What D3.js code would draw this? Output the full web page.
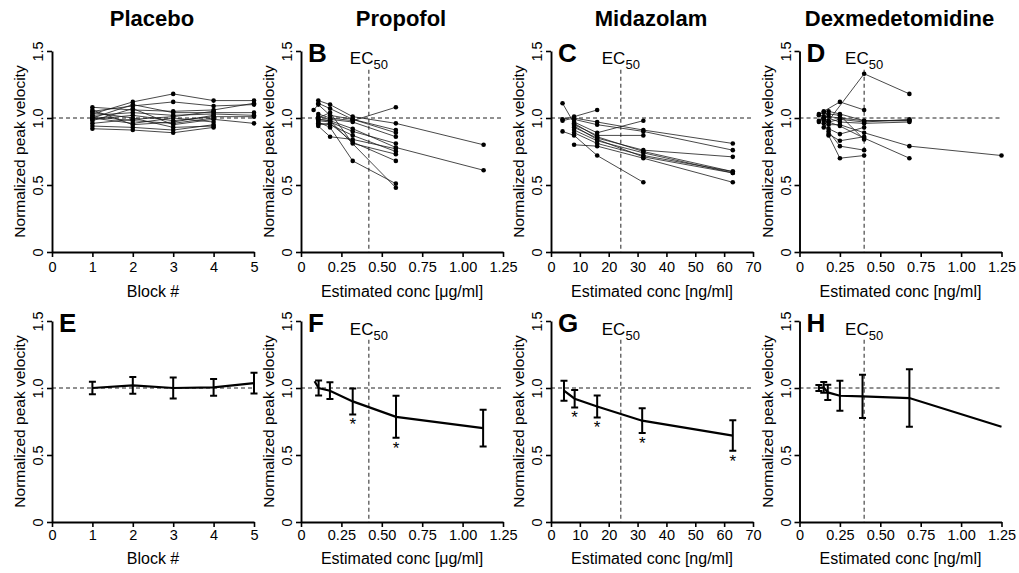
<!DOCTYPE html>
<html>
<head>
<meta charset="utf-8">
<script src="https://cdn.jsdelivr.net/npm/d3@7"></script>
<style>
  body { margin: 0; background: #fff; }
  svg { display: block; font-family: "Liberation Sans", Arial, sans-serif; }
</style>
</head>
<body>
<svg id="chart" width="1019" height="573"></svg>
<script>
// ---- data ----
const groupTitles = ["Placebo", "Propofol", "Midazolam", "Dexmedetomidine"];
const yTicks = [0, 0.5, 1.0, 1.5];

const placeboBlocks = [1, 2, 3, 4, 5];
const placeboSubjects = [
  [1.03, 1.12, 1.18, 1.13, 1.13],
  [1.05, 1.09, 1.12, 1.09, 1.10],
  [1.08, 1.06, 1.05, 1.06, 1.11],
  [1.00, 1.10, 1.04, 1.04, 1.04],
  [1.02, 1.04, 1.02, 1.03, 1.02],
  [0.99, 1.02, 0.98, 1.01, 1.01],
  [1.01, 0.98, 0.96, 1.00, null],
  [1.00, 0.96, 1.00, 0.97, null],
  [0.98, 1.07, 0.95, 0.99, 0.96],
  [0.94, 0.93, 0.91, 0.95, null],
  [0.92, 0.91, 0.89, 0.93, null],
  [0.96, 0.99, 1.01, 1.05, null],
  [1.04, 1.00, 0.93, 0.94, null],
  [1.06, 0.95, 0.97, 1.02, null],
];

const propofolConc = [0.078, 0.107, 0.18, 0.32, 0.587, 1.13];
const propofolSubjects = [
  [null, 1.13, 1.10, 1.01, 0.96, 0.80],
  [null, 1.11, 1.07, 0.99, 0.91, null],
  [1.06, 1.10, 1.02, 0.99, 0.89, null],
  [null, 1.03, 1.00, 0.98, 1.08, null],
  [null, 1.01, 0.99, 0.97, 0.86, null],
  [null, 0.99, 0.98, 0.92, 0.78, 0.61],
  [null, 0.98, 0.97, 0.90, 0.81, null],
  [null, 0.96, 0.95, 0.87, 0.75, null],
  [null, 0.94, 0.86, 0.84, 0.77, null],
  [null, 0.95, 0.96, 0.82, 0.68, null],
  [null, 0.97, 0.93, 0.68, 0.51, null],
  [null, 0.99, 0.98, null, 0.48, null],
  [null, 1.00, 1.04, 0.81, 0.73, null],
];

const midazolamConc = [4, 8, 16, 32, 63];
const midazolamSubjects = [
  [1.11, 0.96, 0.86, 0.75, 0.60],
  [0.99, 1.01, 1.06, null, null],
  [0.98, 1.00, 0.97, 0.91, 0.81],
  [0.90, 0.87, 0.72, 0.52, null],
  [null, 0.99, 0.95, 0.90, 0.76],
  [null, 0.97, 0.89, 0.98, null],
  [null, 0.95, 0.87, 0.87, null],
  [null, 0.93, 0.85, 0.76, 0.71],
  [null, 0.91, 0.83, 0.74, 0.59],
  [null, 0.89, 0.81, 0.72, 0.60],
  [null, 0.80, 0.79, 0.70, 0.52],
  [null, 0.94, 0.84, 0.71, 0.59],
];

const dexConc = [0.12, 0.15, 0.18, 0.25, 0.40, 0.68, 1.25];
const dexSubjects = [
  [null, 1.00, 0.98, null, 1.33, 1.18, null],
  [null, 1.05, null, 1.12, 1.06, null, null],
  [1.02, null, 1.01, 1.00, 0.98, 0.98, null],
  [null, 0.98, 0.97, 0.99, 0.97, 0.99, null],
  [0.98, 1.01, null, 0.97, 0.96, 0.97, null],
  [null, 0.99, 0.95, 0.95, 0.89, 0.79, 0.72],
  [null, null, 0.92, 0.88, 0.93, null, null],
  [null, null, 0.88, 0.83, 0.86, null, null],
  [null, 0.96, 0.90, 0.79, 0.76, null, null],
  [null, null, 0.87, 0.70, 0.72, null, null],
  [1.03, 1.04, 1.03, 1.02, 0.84, null, null],
  [null, 0.93, 0.97, 0.94, 0.85, 0.70, null],
  [0.97, 1.00, 1.05, 1.03, 0.98, 0.98, null],
];

// group means +/- SD (bottom row)
const placeboMean = [1.00, 1.02, 1.00, 1.005, 1.036];
const placeboSD = [0.047, 0.063, 0.079, 0.062, 0.077];

const propofolMeanConc = [0.084, 0.109, 0.179, 0.32, 0.588, 1.127];
const propofolMean = [1.05, 1.00, 0.98, 0.90, 0.785, 0.70];
const propofolSD = [null, 0.056, 0.062, 0.097, 0.157, 0.137];
const propofolSig = [false, false, false, true, true, false];

const midazolamMeanConc = [4.5, 8.2, 16, 31.6, 63];
const midazolamMean = [0.98, 0.92, 0.862, 0.756, 0.645];
const midazolamSD = [0.075, 0.065, 0.082, 0.092, 0.114];
const midazolamSig = [false, true, true, true, true];

const dexMeanConc = [0.12, 0.15, 0.175, 0.25, 0.39, 0.68, 1.25];
const dexMean = [1.00, 1.005, 0.967, 0.942, 0.937, 0.925, 0.711];
const dexSD = [0.022, 0.04, 0.057, 0.112, 0.161, 0.215, null];

const ec50 = { propofol: 0.42, midazolam: 24.2, dex: 0.40 };

// ---- layout ----
const svg = d3.select("#chart");
svg.append("rect").attr("width", 1019).attr("height", 573).attr("fill", "#fff");

const W = 202;
const H = 201;
const lefts = [52, 301, 551, 799.5];
const tops = [51, 321];
const tickPad = [5, 3];
const titleGap = [45, 42];

const fmt2 = (d) => (d === 0 ? "0" : d.toFixed(2));
const fmtInt = d3.format("d");

const columns = [
  { xDomain: [0, 5], xTicks: [0, 1, 2, 3, 4, 5], xFmt: fmtInt, xLabel: "Block #", ec: null },
  { xDomain: [0, 1.25], xTicks: [0, 0.25, 0.5, 0.75, 1, 1.25], xFmt: fmt2, xLabel: "Estimated conc [\u03bcg/ml]", ec: ec50.propofol },
  { xDomain: [0, 70], xTicks: d3.range(0, 71, 10), xFmt: fmtInt, xLabel: "Estimated conc [ng/ml]", ec: ec50.midazolam },
  { xDomain: [0, 1.25], xTicks: [0, 0.25, 0.5, 0.75, 1, 1.25], xFmt: fmt2, xLabel: "Estimated conc [ng/ml]", ec: ec50.dex },
];
const letters = [[null, "B", "C", "D"], ["E", "F", "G", "H"]];

groupTitles.forEach((t, i) => {
  svg.append("text")
    .attr("x", lefts[i] + W / 2 - 1)
    .attr("y", 26)
    .attr("text-anchor", "middle")
    .attr("font-weight", "bold")
    .attr("font-size", 22)
    .text(t);
});

function drawPanel(col, row) {
  const cfg = columns[col];
  const g = svg.append("g").attr("transform", `translate(${lefts[col]},${tops[row]})`);
  const x = d3.scaleLinear().domain(cfg.xDomain).range([0, W]);
  const y = d3.scaleLinear().domain([0, 1.5]).range([H, 0]);

  // reference line at 1.0
  g.append("line")
    .attr("x1", 0).attr("x2", W)
    .attr("y1", y(1)).attr("y2", y(1))
    .attr("stroke", "#222").attr("stroke-width", 1)
    .attr("stroke-dasharray", "4,3");

  if (cfg.ec !== null) {
    g.append("line")
      .attr("x1", x(cfg.ec)).attr("x2", x(cfg.ec))
      .attr("y1", y(1.36)).attr("y2", y(0))
      .attr("stroke", "#222").attr("stroke-width", 1)
      .attr("stroke-dasharray", "4,3");
    const ec = g.append("text")
      .attr("x", x(cfg.ec))
      .attr("y", row === 0 ? 12.5 : 13.5)
      .attr("text-anchor", "middle")
      .attr("font-size", 17);
    ec.append("tspan").text("EC");
    ec.append("tspan").attr("font-size", 13).attr("dy", 5).text("50");
  }

  const xAxis = g.append("g")
    .attr("transform", `translate(0,${H})`)
    .call(d3.axisBottom(x).tickValues(cfg.xTicks).tickFormat(cfg.xFmt)
      .tickSize(5).tickSizeOuter(0).tickPadding(tickPad[row]));
  const yAxis = g.append("g")
    .call(d3.axisLeft(y).tickValues(yTicks).tickFormat((d) => (d === 0 ? "0" : d.toFixed(1)))
      .tickSize(5).tickSizeOuter(0));

  [xAxis, yAxis].forEach((a) => {
    a.select(".domain").attr("stroke", "#000").attr("stroke-width", 1.9);
    a.selectAll(".tick line").attr("stroke", "#000").attr("stroke-width", 1.6);
    a.selectAll(".tick text").attr("fill", "#000").attr("font-size", 14.5)
      .attr("font-family", "'Liberation Sans', Arial, sans-serif");
  });
  yAxis.selectAll(".tick text")
    .attr("transform", "rotate(-90)")
    .attr("x", 0).attr("y", -9).attr("dy", 0)
    .attr("text-anchor", "middle");

  g.append("text")
    .attr("x", W / 2)
    .attr("y", H + titleGap[row])
    .attr("text-anchor", "middle")
    .attr("font-size", 16)
    .text(cfg.xLabel);

  g.append("text")
    .attr("transform", `translate(-27,${H / 2}) rotate(-90)`)
    .attr("text-anchor", "middle")
    .attr("font-size", 15.5)
    .text("Normalized peak velocity");

  const letter = letters[row][col];
  if (letter) {
    g.append("text")
      .attr("x", 7)
      .attr("y", 11)
      .attr("font-size", 26)
      .attr("font-weight", "bold")
      .text(letter);
  }
  return { g, x, y };
}

function drawSubjects(panel, levels, subjects) {
  const { g, x, y } = panel;
  const line = d3.line().x((d) => x(d[0])).y((d) => y(d[1]));
  subjects.forEach((row) => {
    const pts = levels.map((c, i) => [c, row[i]]).filter((p) => p[1] !== null);
    g.append("path")
      .attr("d", line(pts))
      .attr("fill", "none")
      .attr("stroke", "#1a1a1a")
      .attr("stroke-width", 0.8);
    g.selectAll(null)
      .data(pts)
      .join("circle")
      .attr("cx", (d) => x(d[0]))
      .attr("cy", (d) => y(d[1]))
      .attr("r", 2.3)
      .attr("fill", "#000");
  });
}

function drawMeans(panel, levels, means, sds, sig) {
  const { g, x, y } = panel;
  const pts = levels.map((c, i) => ({ c, m: means[i], sd: sds[i], s: sig ? sig[i] : false }));
  g.append("path")
    .attr("d", d3.line().x((d) => x(d.c)).y((d) => y(d.m))(pts))
    .attr("fill", "none")
    .attr("stroke", "#000")
    .attr("stroke-width", 2.2);
  const bars = pts.filter((d) => d.sd !== null);
  const cap = 3.5;
  bars.forEach((d) => {
    const cx = x(d.c);
    const y0 = y(d.m - d.sd);
    const y1 = y(d.m + d.sd);
    g.append("path")
      .attr("d", `M${cx},${y0}V${y1}M${cx - cap},${y1}H${cx + cap}M${cx - cap},${y0}H${cx + cap}`)
      .attr("stroke", "#000")
      .attr("stroke-width", 2)
      .attr("fill", "none");
    if (d.s) {
      g.append("text")
        .attr("x", cx)
        .attr("y", y0 + 16)
        .attr("text-anchor", "middle")
        .attr("font-size", 17)
        .text("*");
    }
  });
}

const pA = drawPanel(0, 0);
drawSubjects(pA, placeboBlocks, placeboSubjects);
const pB = drawPanel(1, 0);
drawSubjects(pB, propofolConc, propofolSubjects);
const pC = drawPanel(2, 0);
drawSubjects(pC, midazolamConc, midazolamSubjects);
const pD = drawPanel(3, 0);
drawSubjects(pD, dexConc, dexSubjects);

const pE = drawPanel(0, 1);
drawMeans(pE, placeboBlocks, placeboMean, placeboSD, null);
const pF = drawPanel(1, 1);
drawMeans(pF, propofolMeanConc, propofolMean, propofolSD, propofolSig);
const pG = drawPanel(2, 1);
drawMeans(pG, midazolamMeanConc, midazolamMean, midazolamSD, midazolamSig);
const pH = drawPanel(3, 1);
drawMeans(pH, dexMeanConc, dexMean, dexSD, null);
</script>
</body>
</html>
